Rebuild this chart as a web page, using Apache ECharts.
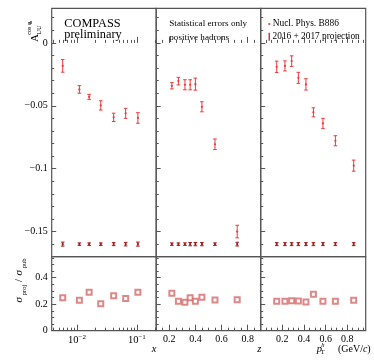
<!DOCTYPE html>
<html><head><meta charset="utf-8">
<script src="https://cdn.jsdelivr.net/npm/echarts@6/dist/echarts.min.js"></script>
<style>html,body{margin:0;padding:0;background:#fff}#c{width:374px;height:364px}</style>
</head><body><div id="c"></div>
<script>
// ---------- data ----------
const xVals  = [0.0058, 0.011, 0.016, 0.025, 0.041, 0.065, 0.104];
const xA     = [-0.0183, -0.037, -0.0429, -0.0497, -0.0592, -0.056, -0.0597];
const xErr   = [0.005, 0.003, 0.002, 0.0037, 0.0033, 0.004, 0.0042];
const xProj  = [-0.16, -0.16, -0.16, -0.16, -0.16, -0.16, -0.16];
const xProjErr = [0.0016, 0.001, 0.001, 0.001, 0.0012, 0.0014, 0.0016];
const xRatio = [0.249, 0.229, 0.29, 0.204, 0.264, 0.242, 0.29];

const zVals  = [0.22, 0.27, 0.32, 0.36, 0.40, 0.45, 0.55, 0.72];
const zA     = [-0.0341, -0.0304, -0.0333, -0.0333, -0.0328, -0.0508, -0.0806, -0.15];
const zErr   = [0.0025, 0.003, 0.004, 0.004, 0.0048, 0.004, 0.0042, 0.005];
const zProj  = [-0.16, -0.16, -0.16, -0.16, -0.16, -0.16, -0.16, -0.16];
const zProjErr = [0.001, 0.001, 0.001, 0.0013, 0.0013, 0.0013, 0.001, 0.0015];
const zRatio = [0.282, 0.222, 0.214, 0.249, 0.222, 0.252, 0.232, 0.234];

const pVals  = [0.148, 0.224, 0.286, 0.348, 0.418, 0.487, 0.575, 0.69, 0.859];
const pA     = [-0.019, -0.0183, -0.0145, -0.0278, -0.033, -0.0552, -0.064, -0.0778, -0.0976];
const pErr   = [0.0045, 0.004, 0.0042, 0.0044, 0.0045, 0.0036, 0.004, 0.004, 0.0044];
const pProj  = [-0.16, -0.16, -0.16, -0.16, -0.16, -0.16, -0.16, -0.16, -0.16];
const pProjErr = [0.0012, 0.0012, 0.0012, 0.0012, 0.0012, 0.0012, 0.0012, 0.0012, 0.0012];
const pRatio = [0.222, 0.222, 0.226, 0.224, 0.217, 0.275, 0.222, 0.222, 0.229];

// ---------- ticks ----------
const topYMajor = [0, -0.05, -0.1, -0.15];
const topYMinor = [0.02, 0.01, -0.01, -0.02, -0.03, -0.04, -0.06, -0.07, -0.08, -0.09, -0.11, -0.12, -0.13, -0.14, -0.16];
const botYMajor = [0, 0.2, 0.4];
const botYMinor = [0.05, 0.1, 0.15, 0.25, 0.3, 0.35, 0.45, 0.5, 0.55];
const xLogMajor = [0.01, 0.1];
const xLogMinor = [0.004, 0.005, 0.006, 0.007, 0.008, 0.009, 0.02, 0.03, 0.04, 0.05, 0.06, 0.07, 0.08, 0.09, 0.2];
const zMajor = [0.2, 0.4, 0.6, 0.8];
const zMinor = [0.15, 0.25, 0.3, 0.35, 0.45, 0.5, 0.55, 0.65, 0.7, 0.75, 0.85];
const pMajor = [0.2, 0.4, 0.6, 0.8];
const pMinor = [0.05, 0.1, 0.15, 0.25, 0.3, 0.35, 0.45, 0.5, 0.55, 0.65, 0.7, 0.75, 0.85, 0.9, 0.95];

// ---------- layout / style ----------
const F = '"Liberation Serif","Times New Roman",serif';
const AX = '#555';
const RED = '#ec3a3a';
const DRED = '#9e1a1a';
const SQ = '#d46a6a';
const Lx = [51.7, 156.2, 260.7], Wx = [104.5, 104.5, 105];
const topRange = [-0.17, 0.0275], botRange = [0, 0.558];
const xRanges = [[0.0038, 0.21], [0.1, 0.9], [0, 0.97]];

const grid = [];
for (let r = 0; r < 2; r++) for (let c = 0; c < 3; c++) {
  grid.push({left: Lx[c], width: Wx[c], top: r ? 256.7 : 8.3, height: r ? 74 : 248.4,
    show: true, borderColor: AX, borderWidth: 1.2, backgroundColor: 'transparent'});
}

const xAxis = [], yAxis = [];
for (let g = 0; g < 6; g++) {
  const c = g % 3;
  xAxis.push({gridIndex: g, type: c === 0 ? 'log' : 'value', logBase: 10, min: xRanges[c][0], max: xRanges[c][1], show: false});
  const yr = g < 3 ? topRange : botRange;
  yAxis.push({gridIndex: g, type: 'value', min: yr[0], max: yr[1], show: false});
}
const fmtNum = v => String(Math.round(v * 1000) / 1000).replace('-', '\u2212');
const fmtLog = v => '{b|10}{s|' + String(Math.round(v)).replace('-', '\u2212') + '}';
function tickAx(g, pos, min, max, vals, len, label) {
  return {gridIndex: g, type: 'value', position: pos, offset: 0, min: min, max: max,
    axisLine: {show: false}, splitLine: {show: false}, minorTick: {show: false},
    axisTick: {show: true, inside: true, length: len, customValues: vals, lineStyle: {color: AX, width: 1}},
    axisLabel: label ? Object.assign({show: true, customValues: vals, color: '#000', fontFamily: F, fontSize: 10}, label) : {show: false}};
}
const L10 = a => a.map(v => Math.log10(v));
for (let g = 0; g < 6; g++) {
  const c = g % 3, bottom = g >= 3;
  let min, max, maj, mnr, lab = null, mlen = 6, nlen = 3;
  if (c === 0) { min = Math.log10(xRanges[0][0]); max = Math.log10(xRanges[0][1]); maj = L10(xLogMajor); mnr = L10(xLogMinor);
    if (bottom) lab = {formatter: fmtLog, margin: 3, rich: {b: {fontFamily: F, fontSize: 10.5, color: '#000'}, s: {fontFamily: F, fontSize: 7, color: '#000', padding: [0, 0, 6, 0]}}};
  } else if (c === 1) { min = xRanges[1][0]; max = xRanges[1][1]; maj = zMajor; mnr = zMinor; if (bottom) lab = {formatter: fmtNum, margin: 4}; }
  else { min = xRanges[2][0]; max = xRanges[2][1]; maj = pMajor; mnr = pMinor; if (bottom) lab = {formatter: fmtNum, margin: 4}; }
  xAxis.push(tickAx(g, 'bottom', min, max, maj, mlen, lab));
  xAxis.push(tickAx(g, 'bottom', min, max, mnr, nlen, null));
  const yr = bottom ? botRange : topRange;
  const ymaj = bottom ? botYMajor : topYMajor, ymin = bottom ? botYMinor : topYMinor;
  yAxis.push(tickAx(g, 'left', yr[0], yr[1], ymaj, 4.5, c === 0 ? {formatter: fmtNum, margin: 4} : null));
  yAxis.push(tickAx(g, 'left', yr[0], yr[1], ymin, 2.5, null));
}

function errRender(color, cap, dot) {
  return function (params, api) {
    const x = api.value(0), y = api.value(1), e = api.value(2);
    const c = api.coord([x, y]), hi = api.coord([x, y + e]), lo = api.coord([x, y - e]);
    const st = {stroke: color, lineWidth: 1};
    const ch = [
      {type: 'line', shape: {x1: c[0], y1: hi[1], x2: c[0], y2: lo[1]}, style: st},
      {type: 'line', shape: {x1: c[0] - cap, y1: hi[1], x2: c[0] + cap, y2: hi[1]}, style: st},
      {type: 'line', shape: {x1: c[0] - cap, y1: lo[1], x2: c[0] + cap, y2: lo[1]}, style: st},
      {type: 'circle', shape: {cx: c[0], cy: c[1], r: dot}, style: {fill: color}}
    ];
    return {type: 'group', children: ch};
  };
}
const zip3 = (a, b, e) => a.map((v, i) => [v, b[i], e[i]]);
const panels = [[xVals, xA, xErr, xProj, xProjErr, xRatio], [zVals, zA, zErr, zProj, zProjErr, zRatio], [pVals, pA, pErr, pProj, pProjErr, pRatio]];
const series = [];
panels.forEach((p, c) => {
  series.push({type: 'custom', name: 'Nucl. Phys. B886', xAxisIndex: c, yAxisIndex: c, renderItem: errRender(RED, 1.8, 1.1),
    encode: {x: 0, y: 1}, data: zip3(p[0], p[1], p[2]), z: 5});
  series.push({type: 'custom', name: '2016 + 2017 projection', xAxisIndex: c, yAxisIndex: c, renderItem: errRender(DRED, 1.8, 1.1),
    encode: {x: 0, y: 1}, data: zip3(p[0], p[3], p[4]), z: 5});
  series.push({type: 'scatter', xAxisIndex: 3 + c, yAxisIndex: 3 + c, symbol: 'emptyRect', symbolSize: 5,
    itemStyle: {color: SQ, borderWidth: 0.8}, data: p[0].map((v, i) => [v, p[5][i]]), z: 5});
});

const T = (x, y, text, size, extra) => ({type: 'text', x: x, y: y, style: Object.assign({text: text, font: size + 'px ' + F, fill: '#000',
  textAlign: 'left', textVerticalAlign: 'middle', align: 'left', verticalAlign: 'middle'}, extra || {})});
const graphic = [
  T(64.3, 23.3, 'COMPASS', 12.3),
  T(64.3, 35.2, 'preliminary', 12.3),
  T(169.3, 24, 'Statistical errors only', 9.1),
  T(169.3, 37.3, 'positive hadrons', 9.1),
  {type: 'circle', shape: {cx: 269.3, cy: 24, r: 1.1}, style: {fill: RED}},
  T(272.7, 24, 'Nucl. Phys. B886', 9.4),
  {type: 'line', shape: {x1: 269.2, y1: 32.8, x2: 269.2, y2: 40.8}, style: {stroke: DRED, lineWidth: 1.2}},
  T(272.6, 37, '2016 + 2017 projection', 9.3),
  T(151.7, 349.5, 'x', 10.5, {font: 'italic 10.5px ' + F}),
  T(257.3, 349.5, 'z', 10.5, {font: 'italic 10.5px ' + F}),
  T(316.7, 349, 'p', 10.5, {font: 'italic 10.5px ' + F}),
  T(321.2, 345, 'h', 6.5, {font: 'italic 6.5px ' + F}),
  T(320.8, 352, 'T', 6.5),
  T(370.7, 349, '(GeV/{i|c})', 10, {textAlign: 'right', align: 'right', rich: {i: {font: 'italic 10px ' + F, fill: '#000'}}}),
  {type: 'group', x: 35, y: 42, rotation: Math.PI / 2, children: [
    T(0, 0, 'A', 11),
    T(7.3, 4.3, 'UU', 6.5),
    T(7.3, -5.8, 'cos φ', 6),
    T(18.8, -4.6, 'h', 4.5)
  ]},
  {type: 'group', x: 19.5, y: 303, rotation: Math.PI / 2, children: [
    T(0.5, 0, 'σ', 11, {font: 'italic 11px ' + F}),
    T(7.8, 5, 'proj', 6.5),
    T(21, 0, '/', 10.5),
    T(27.5, 0, 'σ', 11, {font: 'italic 11px ' + F}),
    T(34.8, 5, 'pub', 6.5)
  ]}
];

const chart = echarts.init(document.getElementById('c'), null, {renderer: 'canvas'});
chart.setOption({animation: false, backgroundColor: '#fff', grid: grid, xAxis: xAxis, yAxis: yAxis, series: series, graphic: graphic});
</script></body></html>
